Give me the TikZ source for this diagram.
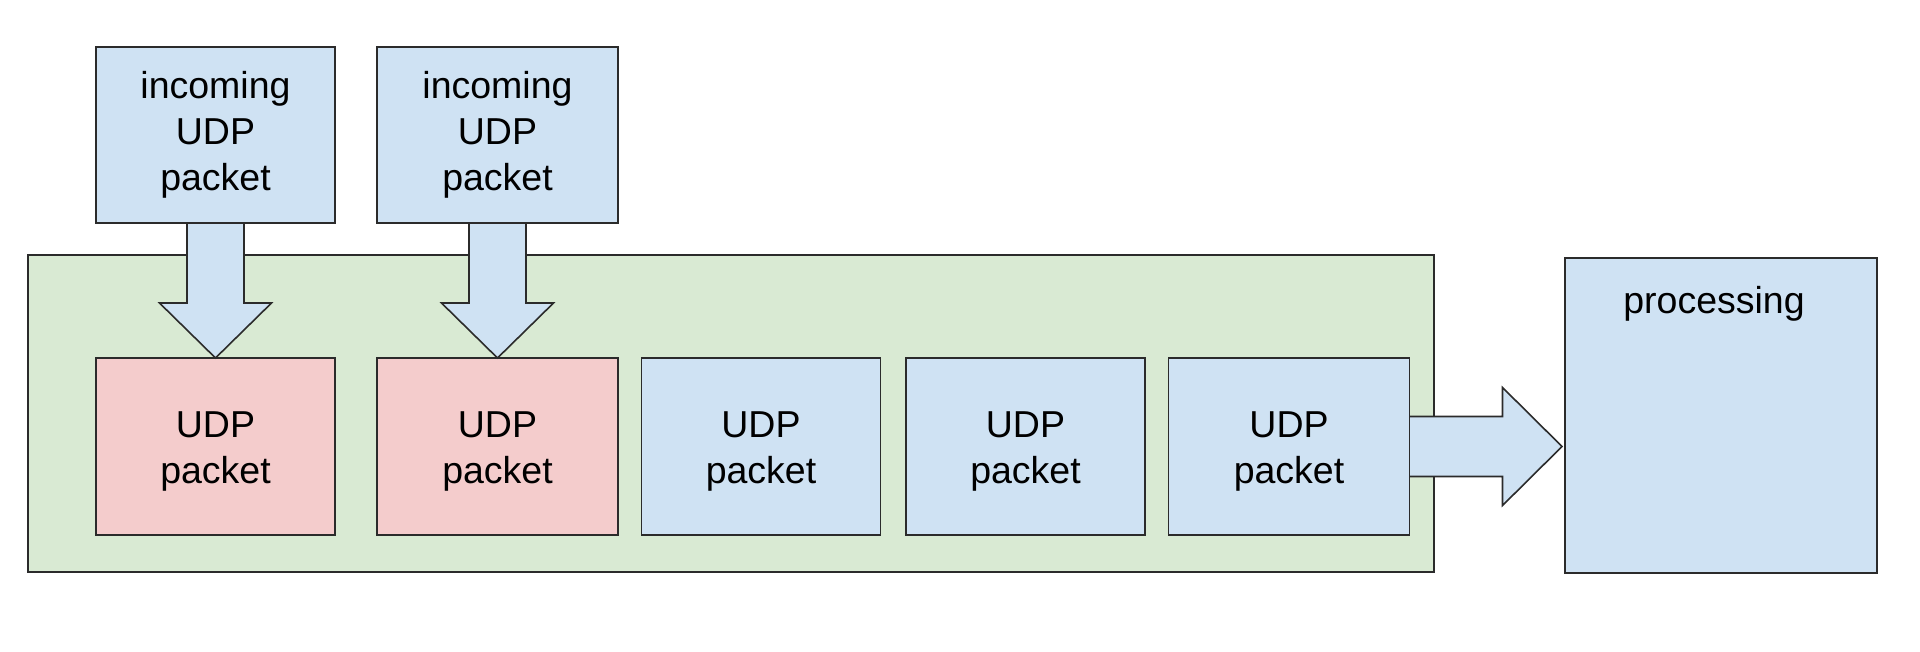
\documentclass[tikz,border=0pt]{standalone}
\usepackage{fontspec}
\setmainfont{Liberation Sans}
\usetikzlibrary{calc}
\definecolor{lblue}{HTML}{CFE2F3}
\definecolor{lpink}{HTML}{F4CCCC}
\definecolor{lgreen}{HTML}{D9EAD3}
\definecolor{edge}{HTML}{2B2B2B}
\begin{document}
\begin{tikzpicture}[x=1pt,y=-1pt,
  box/.style={draw=edge,line width=1.6pt,rectangle,inner sep=0pt,outer sep=0pt},
  bluebox/.style={box,fill=lblue},
  pinkbox/.style={box,fill=lpink},
  txt/.style={inner sep=0pt,align=center,font=\fontsize{37.5}{45.7}\selectfont},
  blockarrow/.style={draw=edge,line width=1.6pt,fill=lblue,line join=miter}]
\useasboundingbox (0,0) rectangle (1920,651);
\fill[white] (0,0) rectangle (1920,651);
% container
\node[box,fill=lgreen,minimum width=1406pt,minimum height=317pt] (buf) at (731,413.5) {};
% boxes
\node[bluebox,minimum width=239pt,minimum height=176pt] (in1) at (215.5,135) {};
\node[bluebox,minimum width=241pt,minimum height=176pt] (in2) at (497.5,135) {};
\node[pinkbox,minimum width=239pt,minimum height=177pt] (u1) at (215.5,446.5) {};
\node[pinkbox,minimum width=241pt,minimum height=177pt] (u2) at (497.5,446.5) {};
\node[bluebox,minimum width=239pt,minimum height=177pt] (u3) at (761,446.5) {};
\node[bluebox,minimum width=239pt,minimum height=177pt] (u4) at (1025.5,446.5) {};
\node[bluebox,minimum width=241pt,minimum height=177pt] (u5) at (1289,446.5) {};
\node[bluebox,minimum width=312pt,minimum height=315pt] (proc) at (1721,415.5) {};
% down arrows
\foreach \a/\b in {in1/u1,in2/u2}{
  \draw[blockarrow]
    ($(\a.south)+(-28.5,0)$) -- ($(\a.south)+(-28.5,80)$) -- ($(\a.south)+(-56,80)$)
    -- (\b.north) -- ($(\a.south)+(56,80)$) -- ($(\a.south)+(28.5,80)$) -- ($(\a.south)+(28.5,0)$);
}
% right arrow
\coordinate (tip) at ($(u5.east -| proc.west)+(-3,0)$);
\draw[blockarrow]
  ($(u5.east)+(0,-30)$) -- ($(u5.east)+(93,-30)$) -- ($(u5.east)+(93,-59)$)
  -- (tip) -- ($(u5.east)+(93,59)$) -- ($(u5.east)+(93,30)$) -- ($(u5.east)+(0,30)$);
% box borders over arrow ends
\foreach \n in {in1,in2,u5}{
  \draw[edge,line width=1.6pt] (\n.south west) rectangle (\n.north east);
}
% texts
\node[txt] (in1t) at (in1) {incoming\\UDP\\packet};
\node[txt] (in2t) at (in2) {incoming\\UDP\\packet};
\foreach \n in {u1,u2,u3,u4,u5}{
  \node[txt] (\n t) at ($(\n)+(0,5)$) {UDP\\packet};
}
\node[txt] (proclabel) at (1714,304) {processing};
\end{tikzpicture}
\end{document}
